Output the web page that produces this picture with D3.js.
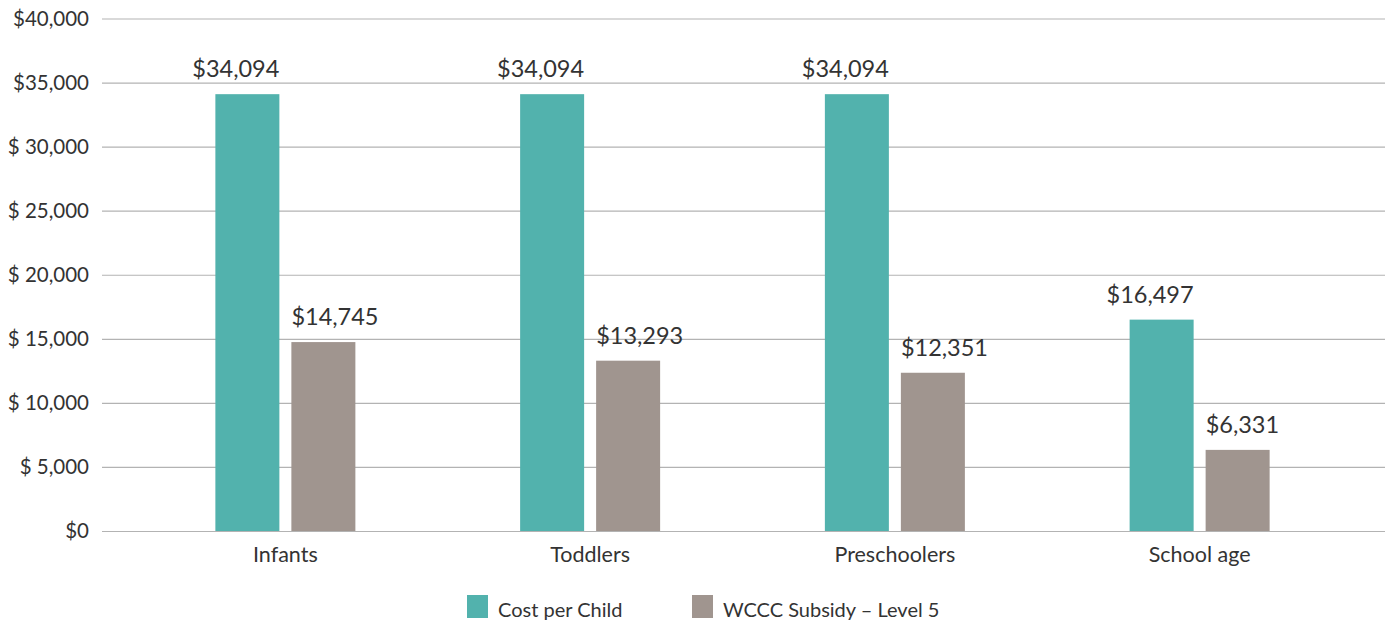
<!DOCTYPE html>
<html>
<head>
<meta charset="utf-8">
<script src="https://cdn.jsdelivr.net/npm/d3@7"></script>
<style>
  body { margin: 0; background: #fff; }
  text { font-family: Lato, "Noto Sans", sans-serif; fill: #333; }
</style>
</head>
<body>
<div id="chartArea"></div>
<script>
// data
let categories = ['Infants', 'Toddlers', 'Preschoolers', 'School age'];
let seriesNames = ['Cost per Child', 'WCCC Subsidy \u2013 Level 5'];
let costPerChild = [34094, 34094, 34094, 16497];
let subsidy = [14745, 13293, 12351, 6331];
let tickValues = [0, 5000, 10000, 15000, 20000, 25000, 30000, 35000, 40000];
let tickLabels = ['$0', '$ 5,000', '$ 10,000', '$ 15,000', '$ 20,000', '$ 25,000', '$ 30,000', '$35,000', '$40,000'];

let colors = ['#52b2ad', '#a0958f'];

let width = 1385, height = 627;

let svg = d3.select('#chartArea').append('svg')
    .attr('width', width)
    .attr('height', height);

let yScale = d3.scaleLinear()
    .domain([0, 40000])
    .range([531, 18.5]);

let x0 = d3.scaleBand()
    .domain(categories)
    .range([133, 1352]);

let x1 = d3.scaleBand()
    .domain(seriesNames)
    .range([0, 140])
    .paddingInner(12 / 76);

// gridlines + y labels
let yAxis = svg.append('g')
    .attr('transform', 'translate(102,0)')
    .call(d3.axisLeft(yScale)
        .tickValues(tickValues)
        .tickSize(-(width - 102))
        .tickPadding(13)
        .tickFormat((d, i) => tickLabels[i]));
yAxis.select('.domain').remove();
yAxis.selectAll('line').attr('stroke', '#b3b3b3').attr('stroke-width', 1.2);
yAxis.selectAll('text').style('font-size', '20.5px').attr('fill', '#333');

// x labels
let xAxis = svg.append('g')
    .attr('transform', 'translate(0,531)')
    .call(d3.axisBottom(x0).tickSize(0).tickPadding(16));
xAxis.select('.domain').remove();
xAxis.selectAll('text').style('font-size', '21.5px').attr('fill', '#333');

let rows = categories.map((c, i) => ({
    cat: c,
    vals: [
        { name: seriesNames[0], value: costPerChild[i], k: 0 },
        { name: seriesNames[1], value: subsidy[i], k: 1 }
    ]
}));

let groups = svg.selectAll('.group')
    .data(rows)
    .enter().append('g')
    .attr('class', 'group')
    .attr('transform', d => 'translate(' + (x0(d.cat) + (x0.bandwidth() - 140) / 2) + ',0)');

groups.selectAll('rect')
    .data(d => d.vals)
    .enter().append('rect')
    .attr('x', d => x1(d.name))
    .attr('width', x1.bandwidth())
    .attr('y', d => yScale(d.value))
    .attr('height', d => yScale(0) - yScale(d.value))
    .attr('fill', d => colors[d.k]);

// value labels: first series right-aligned to bar, second left-aligned
groups.selectAll('.val')
    .data(d => d.vals)
    .enter().append('text')
    .attr('class', 'val')
    .attr('x', d => d.k === 0 ? x1(d.name) + x1.bandwidth() : x1(d.name))
    .attr('y', d => yScale(d.value) - 17)
    .attr('text-anchor', d => d.k === 0 ? 'end' : 'start')
    .style('font-size', '23.5px')
    .text(d => d3.format('$,')(d.value));

// legend
let legendX = [467, 692];
let legend = svg.selectAll('.legend')
    .data(seriesNames)
    .enter().append('g')
    .attr('class', 'legend')
    .attr('transform', (d, i) => 'translate(' + legendX[i] + ',595)');

legend.append('rect')
    .attr('width', 21)
    .attr('height', 23)
    .attr('fill', (d, i) => colors[i]);

legend.append('text')
    .attr('x', 31)
    .attr('y', 22)
    .style('font-size', '20px')
    .text(d => d);
</script>
</body>
</html>
